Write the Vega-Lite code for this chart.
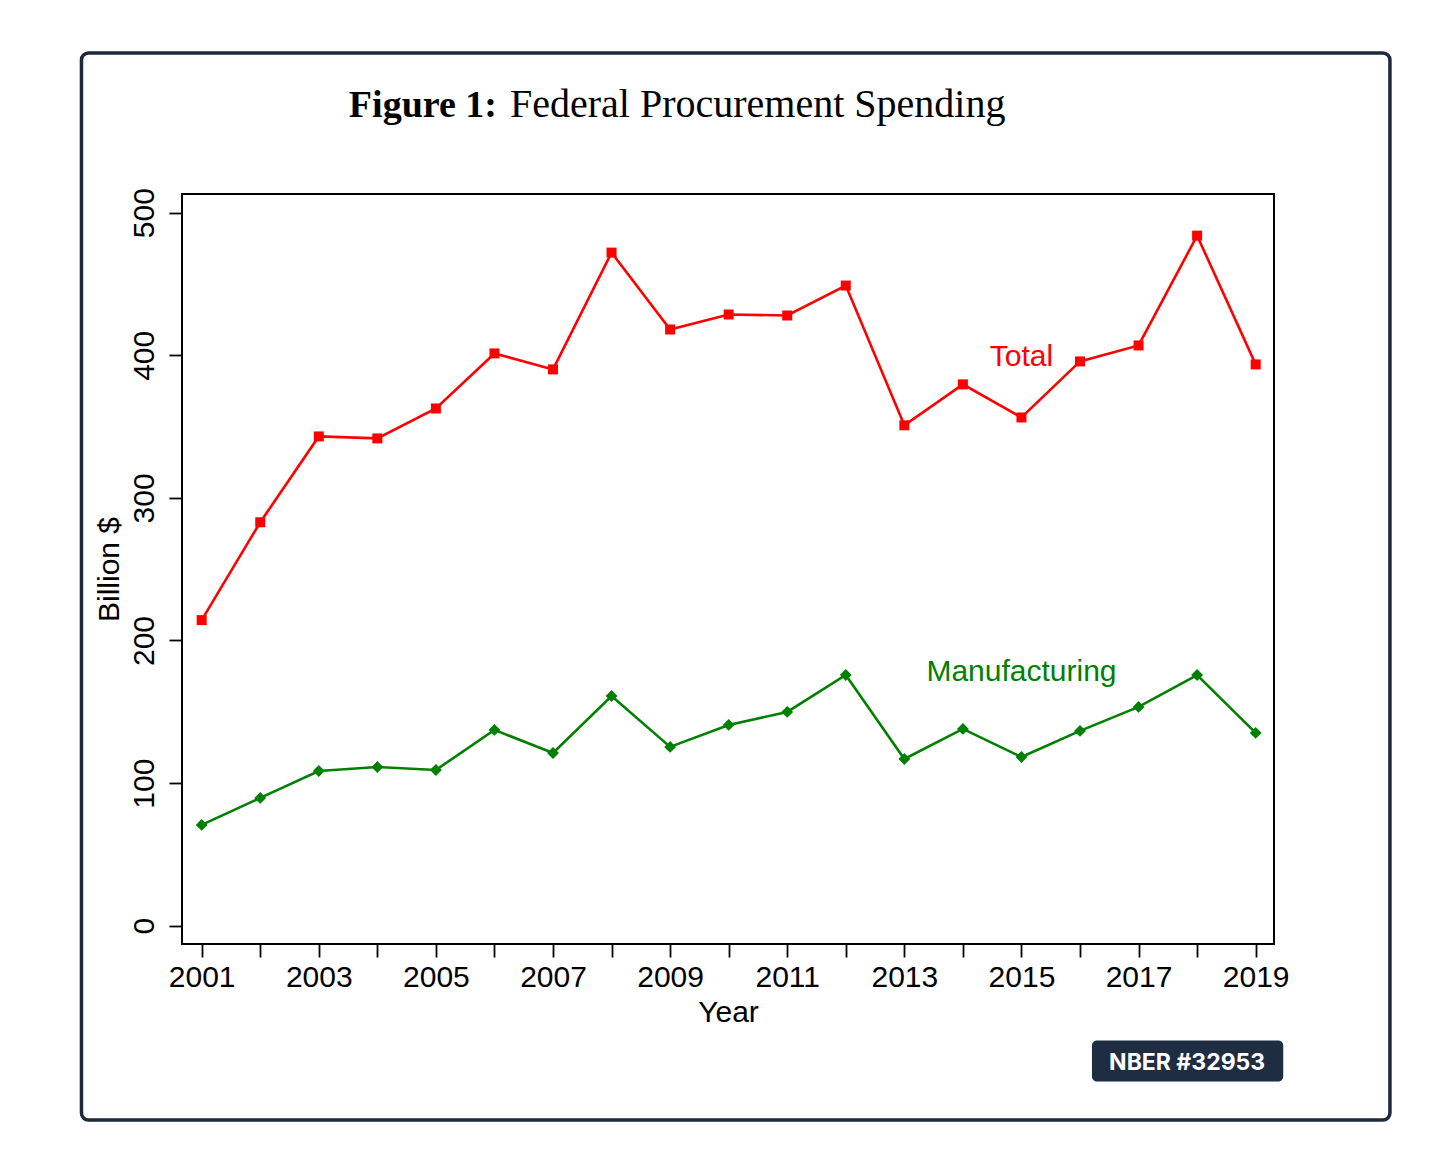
{
  "$schema": "https://vega.github.io/schema/vega-lite/v6.json",
  "width": 1092,
  "height": 750,
  "autosize": {"type": "none"},
  "padding": {"left": 182, "top": 194, "right": 164, "bottom": 217},
  "background": "white",
  "config": {
    "view": {"stroke": "black", "strokeWidth": 2},
    "font": "Liberation Sans"
  },
  "data": {
    "values": [
      {"year": 2001, "series": "Total", "value": 214.3},
      {"year": 2002, "series": "Total", "value": 282.9},
      {"year": 2003, "series": "Total", "value": 343.1},
      {"year": 2004, "series": "Total", "value": 341.7},
      {"year": 2005, "series": "Total", "value": 362.7},
      {"year": 2006, "series": "Total", "value": 401.3},
      {"year": 2007, "series": "Total", "value": 390.1},
      {"year": 2008, "series": "Total", "value": 472.0},
      {"year": 2009, "series": "Total", "value": 418.1},
      {"year": 2010, "series": "Total", "value": 428.6},
      {"year": 2011, "series": "Total", "value": 427.9},
      {"year": 2012, "series": "Total", "value": 448.9},
      {"year": 2013, "series": "Total", "value": 350.9},
      {"year": 2014, "series": "Total", "value": 379.6},
      {"year": 2015, "series": "Total", "value": 356.4},
      {"year": 2016, "series": "Total", "value": 395.7},
      {"year": 2017, "series": "Total", "value": 406.9},
      {"year": 2018, "series": "Total", "value": 483.9},
      {"year": 2019, "series": "Total", "value": 393.6},
      {"year": 2001, "series": "Manufacturing", "value": 70.7},
      {"year": 2002, "series": "Manufacturing", "value": 89.6},
      {"year": 2003, "series": "Manufacturing", "value": 108.5},
      {"year": 2004, "series": "Manufacturing", "value": 111.3},
      {"year": 2005, "series": "Manufacturing", "value": 109.2},
      {"year": 2006, "series": "Manufacturing", "value": 137.3},
      {"year": 2007, "series": "Manufacturing", "value": 121.1},
      {"year": 2008, "series": "Manufacturing", "value": 161.1},
      {"year": 2009, "series": "Manufacturing", "value": 125.4},
      {"year": 2010, "series": "Manufacturing", "value": 140.8},
      {"year": 2011, "series": "Manufacturing", "value": 149.9},
      {"year": 2012, "series": "Manufacturing", "value": 175.8},
      {"year": 2013, "series": "Manufacturing", "value": 116.9},
      {"year": 2014, "series": "Manufacturing", "value": 138.0},
      {"year": 2015, "series": "Manufacturing", "value": 118.3},
      {"year": 2016, "series": "Manufacturing", "value": 136.6},
      {"year": 2017, "series": "Manufacturing", "value": 153.4},
      {"year": 2018, "series": "Manufacturing", "value": 175.8},
      {"year": 2019, "series": "Manufacturing", "value": 135.2}
    ]
  },
  "layer": [
    {
      "data": {"values": [{}]},
      "mark": {"type": "rect", "fill": "transparent", "stroke": "#1e293b", "strokeWidth": 3.5, "cornerRadius": 7},
      "encoding": {
        "x": {"datum": 1998.947, "type": "quantitative"},
        "x2": {"datum": 2021.293},
        "y": {"datum": 612.0, "type": "quantitative"},
        "y2": {"datum": -136.3}
      }
    },
    {
      "data": {"values": [{}]},
      "mark": {"type": "rect", "fill": "#1f2d42", "cornerRadius": 5},
      "encoding": {
        "x": {"datum": 2016.204, "type": "quantitative"},
        "x2": {"datum": 2019.471},
        "y": {"datum": -80.5, "type": "quantitative"},
        "y2": {"datum": -109.3}
      }
    },
    {
      "data": {"values": [{}]},
      "mark": {"type": "text", "font": "Inter", "fontWeight": "bold", "fontSize": 23, "color": "white", "align": "center", "baseline": "alphabetic"},
      "encoding": {
        "text": {"value": "NBER #32953"},
        "x": {"datum": 2017.829, "type": "quantitative"},
        "y": {"datum": -101.2, "type": "quantitative"}
      }
    },
    {
      "data": {"values": [{}]},
      "mark": {"type": "text", "font": "Liberation Serif", "fontWeight": "bold", "fontSize": 38, "color": "black", "align": "right", "baseline": "alphabetic"},
      "encoding": {
        "text": {"value": "Figure 1:"},
        "x": {"datum": 2006.043, "type": "quantitative"},
        "y": {"datum": 567.1, "type": "quantitative"}
      }
    },
    {
      "data": {"values": [{}]},
      "mark": {"type": "text", "font": "Liberation Serif", "fontSize": 40, "color": "black", "align": "left", "baseline": "alphabetic"},
      "encoding": {
        "text": {"value": "Federal Procurement Spending"},
        "x": {"datum": 2006.265, "type": "quantitative"},
        "y": {"datum": 567.1, "type": "quantitative"}
      }
    },
    {
      "mark": {"type": "line", "strokeWidth": 2.6},
      "encoding": {
        "x": {
          "field": "year",
          "type": "quantitative",
          "title": "Year",
          "scale": {"domain": [2000.664, 2019.313], "nice": false, "zero": false},
          "axis": {
            "values": [2001, 2002, 2003, 2004, 2005, 2006, 2007, 2008, 2009, 2010, 2011, 2012, 2013, 2014, 2015, 2016, 2017, 2018, 2019],
            "format": "d",
            "labelExpr": "datum.value % 2 == 1 ? datum.label : ''",
            "labelOverlap": false,
            "labelFlush": false,
            "grid": false,
            "domain": false,
            "tickColor": "black",
            "tickWidth": 1.8,
            "tickSize": 13,
            "labelFont": "Liberation Sans",
            "labelFontSize": 30,
            "labelColor": "black",
            "labelPadding": 5,
            "titleFont": "Liberation Sans",
            "titleFontSize": 30,
            "titleFontWeight": "normal",
            "titleColor": "black",
            "titleBaseline": "alphabetic",
            "titleX": 546,
            "titleY": 77
          }
        },
        "y": {
          "field": "value",
          "type": "quantitative",
          "title": "Billion $",
          "scale": {"domain": [-12.83, 513.1], "nice": false, "zero": false},
          "axis": {
            "values": [0, 100, 200, 300, 400, 500],
            "grid": false,
            "domain": false,
            "tickColor": "black",
            "tickWidth": 1.8,
            "tickSize": 13,
            "labelAngle": -90,
            "labelAlign": "center",
            "labelBaseline": "alphabetic",
            "labelPadding": 16,
            "labelFont": "Liberation Sans",
            "labelFontSize": 30,
            "labelColor": "black",
            "titleFont": "Liberation Sans",
            "titleFontSize": 30,
            "titleFontWeight": "normal",
            "titleColor": "black",
            "titleAngle": -90,
            "titleAlign": "center",
            "titleBaseline": "alphabetic",
            "titleX": -64,
            "titleY": 375
          }
        },
        "color": {
          "field": "series",
          "type": "nominal",
          "scale": {"domain": ["Total", "Manufacturing"], "range": ["#ff0000", "#008000"]},
          "legend": null
        }
      }
    },
    {
      "mark": {"type": "point", "filled": true, "opacity": 1},
      "encoding": {
        "x": {"field": "year", "type": "quantitative"},
        "y": {"field": "value", "type": "quantitative"},
        "color": {
          "field": "series",
          "type": "nominal",
          "scale": {"domain": ["Total", "Manufacturing"], "range": ["#ff0000", "#008000"]},
          "legend": null
        },
        "shape": {
          "field": "series",
          "type": "nominal",
          "scale": {"domain": ["Total", "Manufacturing"], "range": ["square", "diamond"]},
          "legend": null
        },
        "size": {
          "field": "series",
          "type": "nominal",
          "scale": {"domain": ["Total", "Manufacturing"], "range": [100, 140]},
          "legend": null
        }
      }
    },
    {
      "data": {"values": [{}]},
      "mark": {"type": "text", "font": "Liberation Sans", "fontSize": 30, "color": "#ff0000", "align": "center", "baseline": "alphabetic"},
      "encoding": {
        "text": {"value": "Total"},
        "x": {"datum": 2015, "type": "quantitative"},
        "y": {"datum": 392.3, "type": "quantitative"}
      }
    },
    {
      "data": {"values": [{}]},
      "mark": {"type": "text", "font": "Liberation Sans", "fontSize": 30, "color": "#008000", "align": "center", "baseline": "alphabetic"},
      "encoding": {
        "text": {"value": "Manufacturing"},
        "x": {"datum": 2015, "type": "quantitative"},
        "y": {"datum": 171.8, "type": "quantitative"}
      }
    }
  ]
}
